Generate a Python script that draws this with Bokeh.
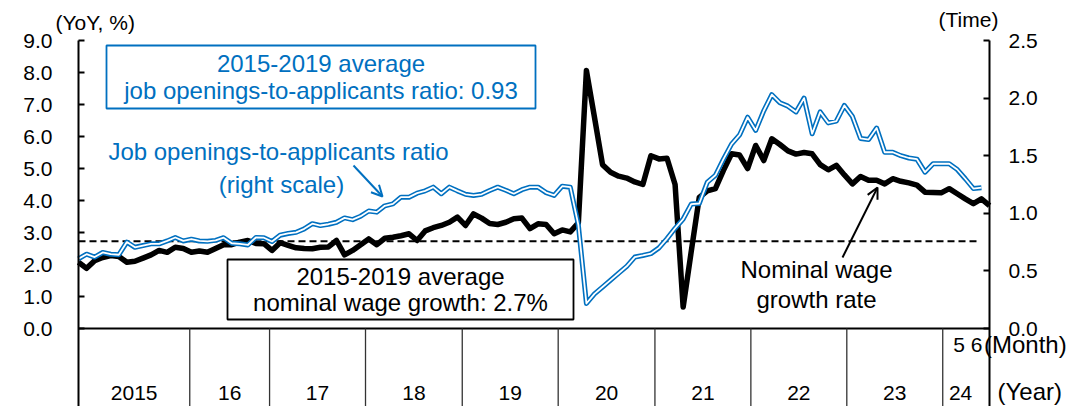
from bokeh.plotting import figure
from bokeh.models import (Range1d, LinearAxis, FixedTicker, PrintfTickFormatter, Label,
                          Arrow, OpenHead, BoxAnnotation)
from bokeh.core.properties import value
from bokeh.embed import file_html
from bokeh.resources import INLINE

# ---------------- data (monthly, Jan 2015 = index 0) ----------------
wage_growth = [  # nominal wage growth, YoY %, Jan 2015 - Jun 2024
    2.07, 1.88, 2.12, 2.22, 2.28, 2.25, 2.07, 2.10, 2.20, 2.30, 2.44, 2.38,
    2.54, 2.50, 2.38, 2.42, 2.38, 2.50, 2.62, 2.62, 2.70, 2.75, 2.66, 2.65,
    2.44, 2.68, 2.60, 2.52, 2.50, 2.49, 2.54, 2.55, 2.75, 2.30, 2.44, 2.62,
    2.80, 2.62, 2.82, 2.85, 2.90, 2.96, 2.75, 3.05, 3.15, 3.22, 3.32, 3.48,
    3.22, 3.58, 3.45, 3.28, 3.25, 3.32, 3.43, 3.45, 3.12, 3.27, 3.25, 2.96,
    3.08, 3.02, 3.30, 8.06, 6.60, 5.12, 4.88, 4.76, 4.70, 4.58, 4.50, 5.40,
    5.30, 5.32, 4.50, 0.67, 2.40, 4.10, 4.30, 4.37, 4.94, 5.46, 5.42, 5.00,
    5.72, 5.25, 5.93, 5.75, 5.55, 5.45, 5.50, 5.46, 5.12, 4.96, 5.10, 4.80,
    4.52, 4.75, 4.63, 4.63, 4.52, 4.68, 4.60, 4.55, 4.48, 4.26, 4.25, 4.24,
    4.37, 4.21, 4.05, 3.90, 4.05, 3.84,
]
job_ratio = [  # job openings-to-applicants ratio, times, Jan 2015 - May 2024
    0.605, 0.645, 0.620, 0.660, 0.645, 0.640, 0.750, 0.705, 0.720, 0.735, 0.735, 0.760,
    0.790, 0.760, 0.775, 0.760, 0.757, 0.765, 0.788, 0.740, 0.735, 0.725, 0.790, 0.788,
    0.755, 0.810, 0.825, 0.835, 0.865, 0.910, 0.894, 0.905, 0.922, 0.960, 0.945, 0.975,
    1.020, 1.010, 1.065, 1.082, 1.140, 1.140, 1.175, 1.195, 1.227, 1.170, 1.227, 1.195,
    1.165, 1.155, 1.165, 1.198, 1.227, 1.200, 1.170, 1.205, 1.227, 1.227, 1.180, 1.155,
    1.235, 1.227, 0.900, 0.217, 0.300, 0.360, 0.420, 0.480, 0.540, 0.620, 0.634, 0.650,
    0.700, 0.780, 0.870, 0.950, 1.080, 1.085, 1.270, 1.330, 1.470, 1.600, 1.680, 1.834,
    1.720, 1.890, 2.030, 1.960, 1.930, 1.880, 2.000, 1.690, 1.880, 1.785, 1.800, 1.936,
    1.840, 1.650, 1.640, 1.740, 1.530, 1.530, 1.500, 1.480, 1.470, 1.357, 1.430, 1.430,
    1.430, 1.380, 1.300, 1.215, 1.222,
]
wage_avg_2015_2019 = 2.73
year_labels = ["2015", "16", "17", "18", "19", "20", "21", "22", "23", "24"]
year_bounds = [13.8, 23.7, 35.6, 47.6, 59.5, 71.5, 83.4, 95.3, 107.2]  # month positions of year dividers
left_ticks = [0, 1, 2, 3, 4, 5, 6, 7, 8, 9]
right_ticks = [0, 0.5, 1.0, 1.5, 2.0, 2.5]

# ---------------- layout helpers (pixel -> data) ----------------
W, H = 1072, 406
FL, FR, FT, FB = 78, 989, 40, 406   # plot-area edges in pixels
N = len(wage_growth) - 1
PXM = (FR - FL) / N          # pixels per month
PXL = 32.0                   # pixels per left-axis unit
PXR = 288.0 / 2.5            # pixels per right-axis unit
Y0 = 328                     # pixel row of value 0


def X(px):
    return (px - FL) / PXM


def YL(py):
    return (Y0 - py) / PXL


def YR(py):
    return (Y0 - py) / PXR


FONT = "Liberation Sans"
BLUE = "#0070C0"

p = figure(width=W, height=H, output_backend="svg", toolbar_location=None,
           x_axis_location=None, title=None,
           x_range=Range1d(X(0), X(W)), y_range=Range1d(YL(H), YL(0)),
           min_border=0, min_border_left=0, min_border_right=0,
           min_border_top=0, min_border_bottom=0)
p.outline_line_color = None
p.xgrid.visible = False
p.ygrid.visible = False
p.background_fill_color = "white"
p.border_fill_color = "white"

p.extra_y_ranges = {"right": Range1d(YR(H), YR(0))}

la = p.yaxis[0]
la.ticker = FixedTicker(ticks=left_ticks)
la.formatter = PrintfTickFormatter(format="%.1f")
la.fixed_location = 0
la.bounds = (YL(FB), left_ticks[-1])
ra = LinearAxis(y_range_name="right", ticker=FixedTicker(ticks=right_ticks),
                formatter=PrintfTickFormatter(format="%.1f"),
                fixed_location=N, bounds=(YR(FB), right_ticks[-1]))
p.add_layout(ra, "right")
for ax, st in ((la, 26), (ra, 19)):
    ax.axis_line_width = 2
    ax.axis_line_color = "black"
    ax.major_tick_in = 6
    ax.major_tick_out = 0
    ax.major_tick_line_width = 2
    ax.minor_tick_line_color = None
    ax.major_label_text_font = FONT
    ax.major_label_text_font_size = "21px"
    ax.major_label_text_color = "black"
    ax.major_label_standoff = st

# baseline (x axis line)
p.line(x=[0, N], y=[0, 0], line_color="black", line_width=2)

# year dividers and labels in the band below the baseline
band_bottom = YL(FB)
p.segment(x0=year_bounds, x1=year_bounds, y0=[0] * len(year_bounds),
          y1=[band_bottom] * len(year_bounds), line_color="#333333", line_width=1.3)
edges = [0] + year_bounds + [X(978)]
centers = [(edges[k] + edges[k + 1]) / 2 for k in range(len(year_labels))]
p.text(x=centers, y=[YL(392)] * len(centers), text=year_labels,
       text_font=value(FONT), text_font_size=value("21px"), text_color="black",
       text_align="center", text_baseline="middle")

# 2015-2019 average of wage growth
p.line(x=[0, X(978)], y=[wage_avg_2015_2019, wage_avg_2015_2019], line_color="black",
       line_width=2, line_dash="7 4")

# series
months = list(range(len(wage_growth)))
p.line(x=months, y=wage_growth, line_color="black", line_width=5.5, line_join="round")
jm = list(range(len(job_ratio)))
p.line(x=jm, y=job_ratio, y_range_name="right", line_color=BLUE, line_width=5, line_join="round")
p.line(x=jm, y=job_ratio, y_range_name="right", line_color="white", line_width=1.8, line_join="round")

# boxes
p.add_layout(BoxAnnotation(left=X(106), right=X(535), top=YL(45), bottom=YL(108),
                           fill_color="white", fill_alpha=1, line_color=BLUE,
                           line_alpha=1, line_width=1.8))
p.add_layout(BoxAnnotation(left=X(227), right=X(573), top=YL(259), bottom=YL(319),
                           fill_color="white", fill_alpha=1, line_color="black",
                           line_alpha=1, line_width=1.8))


def lab(text, px, py, color="black", size="24px", align="center"):
    p.add_layout(Label(x=X(px), y=YL(py), text=text, text_font=FONT, text_font_size=size,
                       text_color=color, text_align=align, text_baseline="middle"))


lab("2015-2019 average", 320.5, 62.5, BLUE)
lab("job openings-to-applicants ratio: 0.93", 320.5, 90, BLUE)
lab("Job openings-to-applicants ratio", 278, 151, BLUE)
lab("(right scale)", 281, 184, BLUE)
lab("2015-2019 average", 400, 276)
lab("nominal wage growth: 2.7%", 400, 302)
lab("Nominal wage", 816, 269)
lab("growth rate", 816, 299)

lab("(YoY, %)", 55, 22, size="21px", align="left")
lab("(Time)", 938, 19, size="21px", align="left")
lab("5 6", 982, 344, size="21px", align="right")
lab("(Month)", 983.5, 344, size="24px", align="left")
lab("(Year)", 997, 391, size="24px", align="left")

# arrows
p.add_layout(Arrow(end=OpenHead(size=11, line_color=BLUE, line_width=2),
                   x_start=X(353), y_start=YL(165), x_end=X(382), y_end=YL(196),
                   line_color=BLUE, line_width=2))
p.add_layout(Arrow(end=OpenHead(size=11, line_color="black", line_width=2),
                   x_start=X(842), y_start=YL(257), x_end=X(877), y_end=YL(187),
                   line_color="black", line_width=2))

open("out.html", "w").write(file_html(p, INLINE))
